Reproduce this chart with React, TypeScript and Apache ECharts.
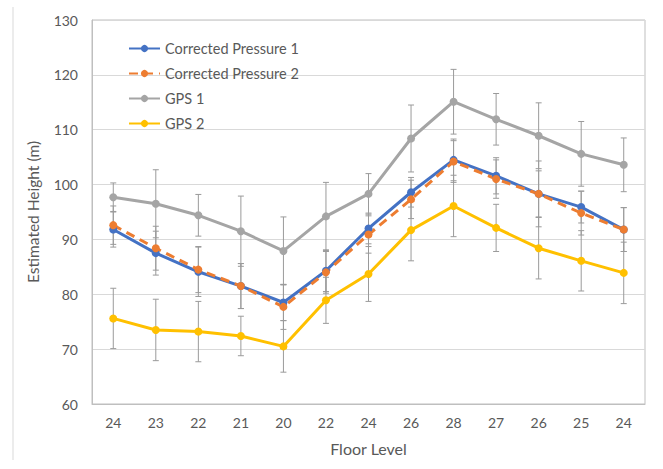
import React, { useEffect, useRef } from "react";
import * as echarts from "echarts";

const categories = ["24", "23", "22", "21", "20", "22", "24", "26", "28", "27", "26", "25", "24"];
const seriesNames = ["Corrected Pressure 1", "Corrected Pressure 2", "GPS 1", "GPS 2"];
const cp1 = [91.8, 87.5, 84.1, 81.5, 78.5, 84.3, 92.0, 98.6, 104.5, 101.6, 98.3, 95.9, 91.8];
const cp2 = [92.6, 88.4, 84.5, 81.5, 77.7, 84.0, 90.9, 97.3, 104.2, 101.0, 98.3, 94.8, 91.8];
const gps1 = [97.7, 96.5, 94.4, 91.5, 87.9, 94.2, 98.3, 108.4, 115.1, 111.9, 108.9, 105.6, 103.6];
const gps2 = [75.6, 73.5, 73.2, 72.4, 70.5, 78.9, 83.7, 91.7, 96.1, 92.1, 88.4, 86.1, 83.9];
const cp1Err = [3.2, 4.0, 4.5, 4.1, 3.3, 3.8, 2.8, 2.7, 3.8, 3.3, 4.2, 2.9, 4.0];
const cp2Err = [3.5, 4.0, 4.2, 4.1, 4.1, 3.8, 3.4, 3.5, 3.8, 3.5, 6.0, 4.0, 4.0];
const gps1Err = [2.6, 6.2, 3.8, 6.4, 6.2, 6.2, 3.7, 6.1, 5.9, 4.7, 6.0, 5.9, 4.9];
const gps2Err = [5.5, 5.6, 5.5, 3.6, 4.7, 4.2, 5.0, 5.6, 5.6, 4.3, 5.6, 5.5, 5.6];
const yTicks = { min: 60, max: 130, interval: 10 };

const colors = ["#4472C4", "#ED7D31", "#A5A5A5", "#FFC000"];
const FONT = "Lato, 'Liberation Sans', sans-serif";

export default function App() {
  const ref = useRef<HTMLDivElement>(null);
  useEffect(() => {
    if (!ref.current) return;
    const chart = echarts.init(ref.current, undefined, { renderer: "svg" });
    const values = [cp1, cp2, gps1, gps2];
    const errs = [cp1Err, cp2Err, gps1Err, gps2Err];

    const lineSeries = values.map((vals, k) => ({
      name: seriesNames[k],
      type: "line",
      data: vals,
      symbol: "circle",
      symbolSize: 8,
      z: 3,
      lineStyle: { width: 3, color: colors[k], type: k === 1 ? [9, 6] : "solid" },
      itemStyle: { color: colors[k] },
    }));

    const errSeries = values.map((vals, k) => ({
      name: "err" + k,
      type: "custom",
      z: 2,
      data: vals.map((v, i) => [i, v, errs[k][i]]),
      encode: { x: 0, y: 1 },
      renderItem: (params: any, api: any) => {
        const i = api.value(0);
        const v = api.value(1);
        const e = api.value(2);
        const top = api.coord([i, v + e]);
        const bot = api.coord([i, v - e]);
        const cap = 3;
        const style = { stroke: "#9a9a9a", lineWidth: 1 };
        return {
          type: "group",
          children: [
            { type: "line", shape: { x1: top[0], y1: top[1], x2: bot[0], y2: bot[1] }, style },
            { type: "line", shape: { x1: top[0] - cap, y1: top[1], x2: top[0] + cap, y2: top[1] }, style },
            { type: "line", shape: { x1: bot[0] - cap, y1: bot[1], x2: bot[0] + cap, y2: bot[1] }, style },
          ],
        };
      },
    }));

    chart.setOption({
      animation: false,
      textStyle: { fontFamily: FONT },
      grid: {
        left: 92,
        right: 18,
        top: 20,
        bottom: 65,
        show: true,
        borderColor: "#bfbfbf",
        borderWidth: 1,
      },
      legend: {
        data: seriesNames,
        orient: "vertical",
        left: 128,
        top: 41,
        padding: 0,
        itemWidth: 31,
        itemHeight: 9,
        itemGap: 10,
        itemTextGap: 3,
        textStyle: { fontFamily: FONT, fontSize: 14.5, color: "#595959" },
      },
      graphic: [
        {
          type: "line",
          shape: { x1: 13, y1: 7, x2: 13, y2: 460 },
          style: { stroke: "#d9d9d9", lineWidth: 1 },
        },
      ],
      xAxis: {
        type: "category",
        data: categories,
        boundaryGap: true,
        name: "Floor Level",
        nameLocation: "middle",
        nameGap: 36,
        nameTextStyle: { fontFamily: FONT, fontSize: 16, color: "#595959" },
        axisLine: { lineStyle: { color: "#bfbfbf" } },
        axisTick: { show: false },
        axisLabel: { fontFamily: FONT, fontSize: 14, color: "#595959", margin: 11 },
      },
      yAxis: {
        type: "value",
        min: yTicks.min,
        max: yTicks.max,
        interval: yTicks.interval,
        name: "Estimated Height (m)",
        nameLocation: "middle",
        nameGap: 51,
        nameTextStyle: { fontFamily: FONT, fontSize: 15.5, color: "#595959" },
        axisLine: { show: true, lineStyle: { color: "#bfbfbf" } },
        axisTick: { show: false },
        axisLabel: { fontFamily: FONT, fontSize: 14, color: "#595959", margin: 14 },
        splitLine: { lineStyle: { color: "#d9d9d9" } },
      },
      series: [...errSeries, ...lineSeries],
    });
    return () => chart.dispose();
  }, []);
  return <div ref={ref} style={{ width: 663, height: 469, position: "absolute", left: 0, top: 0 }} />;
}
